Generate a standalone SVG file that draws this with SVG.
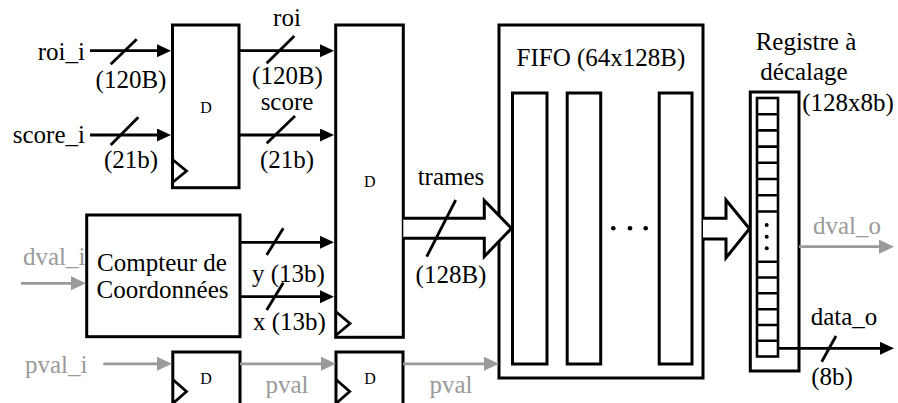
<svg xmlns="http://www.w3.org/2000/svg" width="898" height="403" viewBox="0 0 898 403">
<style>
  .blk{fill:#fff;stroke:#000;stroke-width:3}
  .cell{fill:none;stroke:#000;stroke-width:2.6}
  .w{stroke:#000;stroke-width:2.8;fill:none}
  .g{stroke:#9a9a9a;stroke-width:2.8;fill:none}
  .sl{stroke:#000;stroke-width:2.8;fill:none}
  .clk{fill:none;stroke:#000;stroke-width:2.8}
  .big{fill:#fff;stroke:#000;stroke-width:3;stroke-linejoin:miter}
  text{font-family:"Liberation Serif","Times New Roman",serif;font-size:25px;fill:#000}
  .gt{fill:#9a9a9a}
  .d{font-size:16px}
  .m{text-anchor:middle}
  .e{text-anchor:end}
</style>
<defs>
  <marker id="ab" markerUnits="userSpaceOnUse" markerWidth="16" markerHeight="14" refX="6" refY="6.5" orient="auto">
    <path d="M0,0 L14,6.5 L0,13 z" fill="#000"/>
  </marker>
  <marker id="ag" markerUnits="userSpaceOnUse" markerWidth="16" markerHeight="16" refX="6" refY="7" orient="auto">
    <path d="M0,0 L15,7 L0,14 z" fill="#9a9a9a"/>
  </marker>
</defs>

<g id="reg_in">
  <rect class="blk" x="172.5" y="25" width="66.5" height="162.7"/>
  <polyline class="clk" points="172.5,159.5 186.5,171 172.5,182.5"/>
  <text class="d m" x="206" y="112.5">D</text>
</g>

<g id="reg_main">
  <rect class="blk" x="335.7" y="25" width="67.6" height="312.3"/>
  <polyline class="clk" points="335.7,311.5 350,323.5 335.7,335.5"/>
  <text class="d m" x="369.7" y="187">D</text>
</g>

<g id="compteur">
  <rect class="blk" x="86.7" y="215" width="153.3" height="121.7"/>
  <text class="m" x="162" y="270.5">Compteur de</text>
  <text class="m" x="162.5" y="297.5">Coordonnées</text>
</g>

<g id="reg_pval1">
  <rect class="blk" x="172.8" y="352" width="67.2" height="60"/>
  <polyline class="clk" points="172.8,379.5 186.5,391.5 172.8,403.5"/>
  <text class="d m" x="206" y="384">D</text>
</g>

<g id="reg_pval2">
  <rect class="blk" x="336" y="352" width="67" height="60"/>
  <polyline class="clk" points="336,379.5 349.7,391.5 336,403.5"/>
  <text class="d m" x="370" y="384">D</text>
</g>

<g id="fifo">
  <rect class="blk" x="499" y="25" width="204" height="353"/>
  <rect class="blk" x="512.5" y="93" width="34.5" height="271"/>
  <rect class="blk" x="567.2" y="93" width="33.5" height="271"/>
  <rect class="blk" x="659.2" y="93" width="32.8" height="271"/>
  <circle cx="613.3" cy="228.3" r="2.3"/>
  <circle cx="630" cy="228.3" r="2.3"/>
  <circle cx="645.7" cy="228.3" r="2.3"/>
  <text class="m" x="601" y="66">FIFO (64x128B)</text>
</g>

<g id="shiftreg">
  <rect class="blk" x="750.3" y="92" width="48.7" height="279"/>
  <rect class="cell" x="757" y="98" width="21" height="258.5"/>
  <path class="cell" d="M757,114.2H778M757,130.4H778M757,146.6H778M757,162.8H778M757,179H778M757,195.2H778M757,211.5H778M757,261.7H778M757,277.5H778M757,293.3H778M757,309.2H778M757,325H778M757,340.8H778"/>
  <circle cx="766.7" cy="225" r="2"/>
  <circle cx="766.7" cy="236.7" r="2"/>
  <circle cx="766.7" cy="248.3" r="2"/>
  <text class="m" x="806" y="50">Registre à</text>
  <text class="m" x="804" y="80">décalage</text>
  <text class="m" x="848" y="111">(128x8b)</text>
</g>

<g id="connectors">
  <line class="w" x1="90" y1="50.7" x2="163" y2="50.7" marker-end="url(#ab)"/>
  <line class="w" x1="90" y1="135" x2="163" y2="135" marker-end="url(#ab)"/>
  <line class="sl" x1="110.7" y1="64.3" x2="136.7" y2="39.3"/>
  <line class="sl" x1="110.7" y1="145" x2="138.3" y2="117.3"/>
  <line class="w" x1="240" y1="50.7" x2="326" y2="50.7" marker-end="url(#ab)"/>
  <line class="w" x1="240" y1="135" x2="326" y2="135" marker-end="url(#ab)"/>
  <line class="sl" x1="266.7" y1="63.3" x2="294.3" y2="36"/>
  <line class="sl" x1="266.7" y1="143.3" x2="295" y2="116"/>
  <line class="w" x1="240" y1="242.3" x2="326" y2="242.3" marker-end="url(#ab)"/>
  <line class="w" x1="240" y1="296.7" x2="326" y2="296.7" marker-end="url(#ab)"/>
  <line class="sl" x1="266.7" y1="255" x2="283.3" y2="228.3"/>
  <line class="sl" x1="266.7" y1="310" x2="283.3" y2="282.7"/>
  <line class="g" x1="21" y1="283.3" x2="77" y2="283.3" marker-end="url(#ag)"/>
  <line class="g" x1="103.3" y1="363.8" x2="163" y2="363.8" marker-end="url(#ag)"/>
  <line class="g" x1="240" y1="363.8" x2="327" y2="363.8" marker-end="url(#ag)"/>
  <line class="g" x1="403" y1="363.8" x2="490" y2="363.8" marker-end="url(#ag)"/>
  <polyline class="big" points="403.3,218.3 484.3,218.3 484.3,200.5 511.5,228.4 484.3,256.5 484.3,238.3 403.3,238.3"/>
  <line class="sl" x1="426.7" y1="256.7" x2="455.7" y2="200"/>
  <polyline class="big" points="703,218.3 726,218.3 726,200 749.5,228.8 726,257.8 726,239 703,239"/>
  <line class="g" x1="799" y1="246.7" x2="885" y2="246.7" marker-end="url(#ag)"/>
  <line class="w" x1="778" y1="348.3" x2="886" y2="348.3" marker-end="url(#ab)"/>
  <line class="sl" x1="821.7" y1="361.7" x2="836" y2="336"/>
</g>

<g id="labels">
  <text class="e" x="85" y="60">roi_i</text>
  <text class="m" x="131" y="88">(120B)</text>
  <text class="e" x="85" y="143">score_i</text>
  <text class="m" x="131" y="168">(21b)</text>
  <text class="m" x="287" y="26">roi</text>
  <text class="m" x="287.5" y="84">(120B)</text>
  <text class="m" x="287" y="110">score</text>
  <text class="m" x="287" y="168">(21b)</text>
  <text x="252" y="282">y (13b)</text>
  <text x="253" y="330">x (13b)</text>
  <text class="gt" x="23" y="265">dval_i</text>
  <text class="gt" x="25" y="373">pval_i</text>
  <text class="gt m" x="287" y="393">pval</text>
  <text class="gt m" x="451" y="393">pval</text>
  <text class="m" x="451" y="185">trames</text>
  <text class="m" x="451" y="283">(128B)</text>
  <text class="gt m" x="847" y="234">dval_o</text>
  <text class="m" x="844" y="325">data_o</text>
  <text class="m" x="832" y="385">(8b)</text>
</g>
</svg>
